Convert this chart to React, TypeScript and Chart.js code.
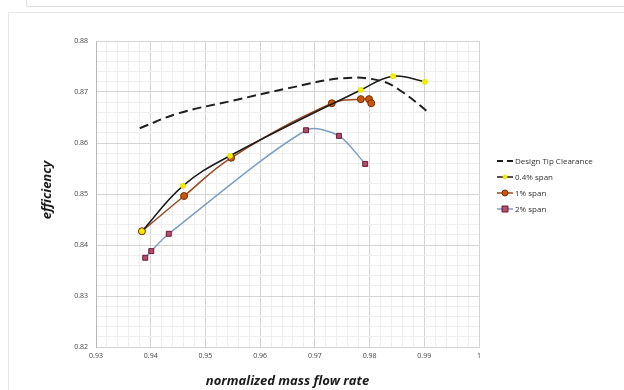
import React, { useEffect, useRef } from "react";
import { Chart, registerables } from "chart.js";

Chart.register(...registerables);

// Data
const designX = [0.938, 0.945, 0.955, 0.965, 0.975, 0.982, 0.986, 0.991];
const designY = [0.8629, 0.8658, 0.8683, 0.8707, 0.8727, 0.8722, 0.87, 0.8658];

const span04X = [0.9384, 0.9459, 0.9545, 0.9784, 0.9843, 0.9901];
const span04Y = [0.8427, 0.8516, 0.8575, 0.8704, 0.8731, 0.872];

const span1X = [0.9384, 0.9461, 0.9547, 0.9731, 0.9784, 0.9799, 0.9803];
const span1Y = [0.8427, 0.8496, 0.8571, 0.8678, 0.8686, 0.8686, 0.8678];

const span2X = [0.939, 0.9401, 0.9433, 0.9684, 0.9744, 0.9792];
const span2Y = [0.8375, 0.8388, 0.8422, 0.8625, 0.8614, 0.8559];

const seriesNames = ["Design Tip Clearance", "0.4% span", "1% span", "2% span"];
const xTitle = "normalized mass flow rate";
const yTitle = "efficiency";

const xMin = 0.93;
const xMax = 1.0;
const yMin = 0.82;
const yMax = 0.88;

const toPts = (xs: number[], ys: number[]) => xs.map((x, i) => ({ x, y: ys[i] }));

const isMajor = (v: number) => Math.round(v * 1000) % 10 === 0;

const overlayPlugin = {
  id: "overlay",
  afterDraw(chart: any) {
    const ctx = chart.ctx;
    const area = chart.chartArea;
    ctx.save();
    // axis titles
    ctx.fillStyle = "#1a1a1a";
    ctx.font = "bold italic 13px 'Open Sans'";
    ctx.textAlign = "center";
    ctx.textBaseline = "middle";
    ctx.fillText(xTitle, (area.left + area.right) / 2, 381);
    ctx.save();
    ctx.translate(47, 190);
    ctx.rotate(-Math.PI / 2);
    ctx.fillText(yTitle, 0, 0);
    ctx.restore();

    // legend
    const lx = 497;
    const rows = [161, 177, 193, 209];
    ctx.font = "8px 'Open Sans'";
    ctx.textAlign = "left";
    ctx.fillStyle = "#333";
    chart.data.datasets.forEach((ds: any, i: number) => {
      const y = rows[i];
      ctx.beginPath();
      ctx.strokeStyle = ds.borderColor;
      ctx.lineWidth = ds.borderWidth;
      ctx.setLineDash(ds.borderDash ? [6, 4] : []);
      ctx.moveTo(lx, y);
      ctx.lineTo(lx + 16, y);
      ctx.stroke();
      ctx.setLineDash([]);
      if (ds.pointRadius > 0) {
        const r = ds.pointRadius - 0.5;
        ctx.fillStyle = ds.pointBackgroundColor;
        ctx.strokeStyle = ds.pointBorderColor;
        ctx.lineWidth = 1;
        ctx.beginPath();
        if (ds.pointStyle === "rect") {
          ctx.rect(lx + 8 - r, y - r, 2 * r, 2 * r);
        } else {
          ctx.arc(lx + 8, y, r, 0, Math.PI * 2);
        }
        ctx.fill();
        ctx.stroke();
      }
      ctx.fillStyle = "#333";
      ctx.fillText(seriesNames[i], lx + 18, y + 0.5);
    });
    ctx.restore();
  },
};

export default function App() {
  const ref = useRef<HTMLCanvasElement | null>(null);

  useEffect(() => {
    if (!ref.current) return;
    const chart = new Chart(ref.current, {
      type: "scatter",
      data: {
        datasets: [
          {
            label: seriesNames[0],
            data: toPts(designX, designY),
            showLine: true,
            borderColor: "#1f1f1f",
            borderWidth: 2,
            borderDash: [9, 5],
            pointRadius: 0,
            tension: 0.4,
          },
          {
            label: seriesNames[1],
            data: toPts(span04X, span04Y),
            showLine: true,
            borderColor: "#1a1a1a",
            borderWidth: 1.5,
            pointRadius: 2.5,
            pointStyle: "circle",
            pointBackgroundColor: "#f5f000",
            pointBorderColor: "#e8e400",
            pointBorderWidth: 1,
            tension: 0.4,
          },
          {
            label: seriesNames[2],
            data: toPts(span1X, span1Y),
            showLine: true,
            borderColor: "#9a4a1c",
            borderWidth: 1.5,
            pointRadius: 3.5,
            pointStyle: "circle",
            pointBackgroundColor: "#c8560f",
            pointBorderColor: "#7a2e08",
            pointBorderWidth: 1,
            tension: 0.4,
          },
          {
            label: seriesNames[3],
            data: toPts(span2X, span2Y),
            showLine: true,
            borderColor: "#7f9fc2",
            borderWidth: 1.5,
            pointRadius: 3.5,
            pointStyle: "rect",
            pointBackgroundColor: "#b0506e",
            pointBorderColor: "#6e1836",
            pointBorderWidth: 1,
            tension: 0.28,
          },
        ],
      },
      options: {
        animation: false,
        responsive: false,
        layout: { padding: { left: 0, top: 41, right: 145, bottom: 0 } },
        plugins: {
          legend: { display: false },
          tooltip: { enabled: false },
        },
        scales: {
          x: {
            type: "linear",
            min: xMin,
            max: xMax,
            afterFit: (scale: any) => {
              scale.height = 43;
            },
            ticks: {
              stepSize: 0.002,
              autoSkip: false,
              maxRotation: 0,
              padding: 5,
              color: "#444",
              font: { family: "'Open Sans'", size: 7 },
              callback: (v: any) => {
                const n = Number(v);
                if (!isMajor(n)) return "";
                return Math.abs(n - 1) < 1e-9 ? "1" : n.toFixed(2);
              },
            },
            grid: {
              tickLength: 0,
              color: (c: any) => (isMajor(c.tick.value) ? "#d4d4d4" : "#eeeeee"),
              lineWidth: 1,
            },
            border: { display: true, color: "#d4d4d4" },
          },
          y: {
            type: "linear",
            min: yMin,
            max: yMax,
            afterFit: (scale: any) => {
              scale.width = 96;
            },
            ticks: {
              stepSize: 0.002,
              autoSkip: false,
              padding: 8,
              color: "#444",
              font: { family: "'Open Sans'", size: 7 },
              callback: (v: any) => {
                const n = Number(v);
                return isMajor(n) ? n.toFixed(2) : "";
              },
            },
            grid: {
              tickLength: 0,
              color: (c: any) => (isMajor(c.tick.value) ? "#d4d4d4" : "#eeeeee"),
              lineWidth: 1,
            },
            border: { display: true, color: "#b8b8b8" },
          },
        },
      },
      plugins: [overlayPlugin],
    });
    return () => chart.destroy();
  }, []);

  return (
    <div
      style={{
        position: "fixed",
        left: 0,
        top: 0,
        width: 624,
        height: 390,
        background: "#fff",
        overflow: "hidden",
      }}
    >
      <div
        style={{
          position: "absolute",
          left: 26,
          top: -3,
          width: 640,
          height: 10,
          border: "1px solid #dcdcdc",
          borderRadius: 2,
          boxSizing: "border-box",
        }}
      />
      <div
        style={{
          position: "absolute",
          left: 8,
          top: 12,
          width: 660,
          height: 420,
          border: "1px solid #e8e8e8",
          boxSizing: "border-box",
        }}
      />
      <canvas
        ref={ref}
        width={624}
        height={390}
        style={{ position: "absolute", left: 0, top: 0, width: 624, height: 390 }}
      />
    </div>
  );
}
